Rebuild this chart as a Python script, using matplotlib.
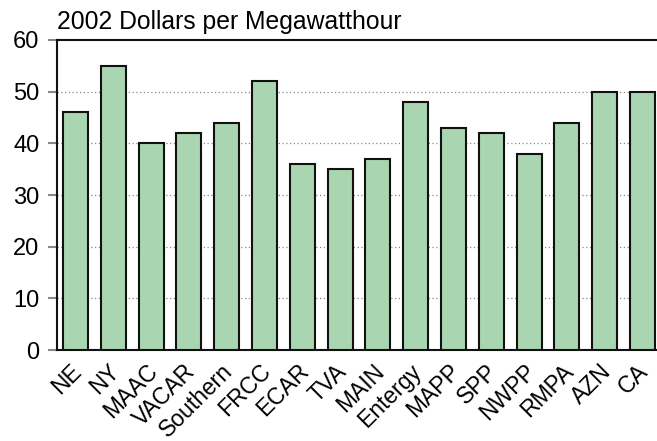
import matplotlib
matplotlib.use("Agg")
import matplotlib.pyplot as plt
import matplotlib.transforms as mtransforms
import numpy as np

# Regional prices, 2002 dollars per MWh
regions = ['NE', 'NY', 'MAAC', 'VACAR', 'Southern', 'FRCC', 'ECAR', 'TVA',
           'MAIN', 'Entergy', 'MAPP', 'SPP', 'NWPP', 'RMPA', 'AZN', 'CA']
prices = [46, 55, 40, 42, 44, 52, 36, 35, 37, 48, 43, 42, 38, 44, 50, 50]
y_ticks = [0, 10, 20, 30, 40, 50, 60]

plt.rcParams['font.family'] = ['Liberation Sans', 'DejaVu Sans']

fig = plt.figure(figsize=(6.57, 4.41), dpi=100)
ax = fig.add_axes([0.0862, 0.2063, 0.9205, 0.703])

x = np.arange(len(regions))
ax.bar(x, prices, width=0.66, color='#a9d6b0', edgecolor='#111111',
       linewidth=1.5, zorder=3)

ax.set_xlim(-0.5, len(regions) - 0.5)
ax.set_ylim(0, 60)
ax.set_yticks(y_ticks)
ax.set_yticklabels([str(t) for t in y_ticks], fontsize=17)
ax.tick_params(axis='y', length=6.5, width=1.5, color='#888888', pad=6)

ax.set_xticks(x)
ax.set_xticklabels(regions, fontsize=16.5, rotation=45, ha='right',
                   rotation_mode='anchor')
ax.tick_params(axis='x', length=0, pad=6)
# nudge the rotated labels a little left so they sit like the original
shift = mtransforms.ScaledTranslation(-4 / 72, -1 / 72, fig.dpi_scale_trans)
for lbl in ax.get_xticklabels():
    lbl.set_transform(lbl.get_transform() + shift)

# dotted gridlines between 0 and 60
for t in y_ticks[1:-1]:
    ax.axhline(t, color='#888888', linestyle=(0, (1, 2)), linewidth=0.9, zorder=1)

for side in ['left', 'top', 'bottom']:
    ax.spines[side].set_linewidth(1.5)
    ax.spines[side].set_color('#111111')
ax.spines['right'].set_visible(False)

fig.text(0.087, 0.934, '2002 Dollars per Megawatthour', fontsize=17.8,
         ha='left', va='baseline')

fig.savefig('out.png', dpi=100)
